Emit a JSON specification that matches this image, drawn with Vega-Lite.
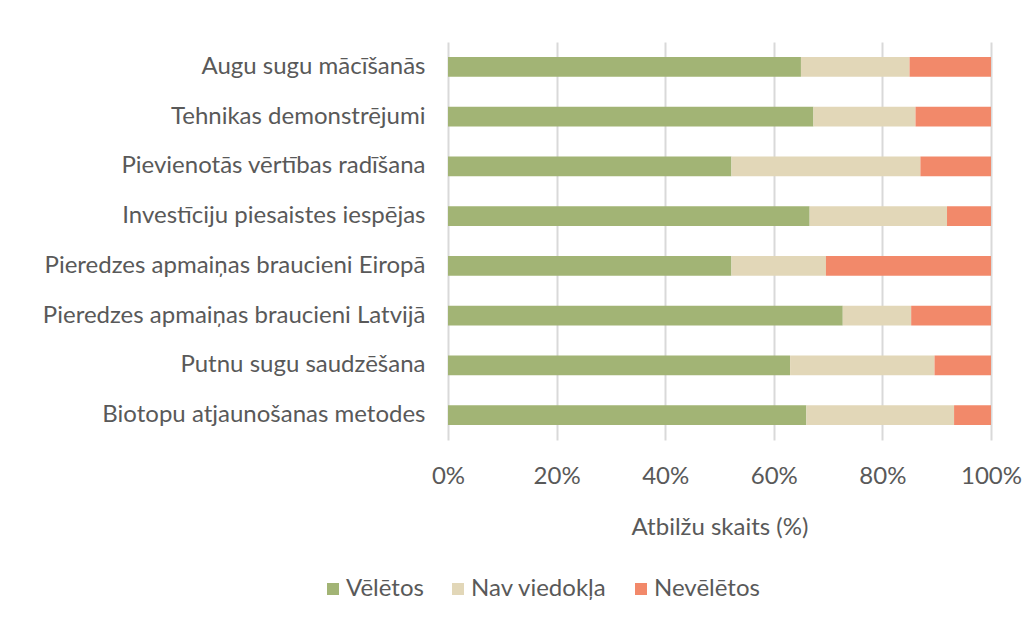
{
  "$schema": "https://vega.github.io/schema/vega-lite/v6.json",
  "width": 543,
  "height": 398,
  "autosize": {"type": "none"},
  "padding": {"left": 448, "top": 42, "right": 44, "bottom": 184},
  "background": "white",
  "data": {
    "values": [
      {"kategorija": "Augu sugu mācīšanās", "atbilde": "Vēlētos", "vertiba": 65.0},
      {"kategorija": "Augu sugu mācīšanās", "atbilde": "Nav viedokļa", "vertiba": 20.0},
      {"kategorija": "Augu sugu mācīšanās", "atbilde": "Nevēlētos", "vertiba": 15.0},
      {"kategorija": "Tehnikas demonstrējumi", "atbilde": "Vēlētos", "vertiba": 67.3},
      {"kategorija": "Tehnikas demonstrējumi", "atbilde": "Nav viedokļa", "vertiba": 18.8},
      {"kategorija": "Tehnikas demonstrējumi", "atbilde": "Nevēlētos", "vertiba": 13.9},
      {"kategorija": "Pievienotās vērtības radīšana", "atbilde": "Vēlētos", "vertiba": 52.2},
      {"kategorija": "Pievienotās vērtības radīšana", "atbilde": "Nav viedokļa", "vertiba": 34.8},
      {"kategorija": "Pievienotās vērtības radīšana", "atbilde": "Nevēlētos", "vertiba": 13.0},
      {"kategorija": "Investīciju piesaistes iespējas", "atbilde": "Vēlētos", "vertiba": 66.6},
      {"kategorija": "Investīciju piesaistes iespējas", "atbilde": "Nav viedokļa", "vertiba": 25.3},
      {"kategorija": "Investīciju piesaistes iespējas", "atbilde": "Nevēlētos", "vertiba": 8.1},
      {"kategorija": "Pieredzes apmaiņas braucieni Eiropā", "atbilde": "Vēlētos", "vertiba": 52.2},
      {"kategorija": "Pieredzes apmaiņas braucieni Eiropā", "atbilde": "Nav viedokļa", "vertiba": 17.4},
      {"kategorija": "Pieredzes apmaiņas braucieni Eiropā", "atbilde": "Nevēlētos", "vertiba": 30.4},
      {"kategorija": "Pieredzes apmaiņas braucieni Latvijā", "atbilde": "Vēlētos", "vertiba": 72.7},
      {"kategorija": "Pieredzes apmaiņas braucieni Latvijā", "atbilde": "Nav viedokļa", "vertiba": 12.6},
      {"kategorija": "Pieredzes apmaiņas braucieni Latvijā", "atbilde": "Nevēlētos", "vertiba": 14.7},
      {"kategorija": "Putnu sugu saudzēšana", "atbilde": "Vēlētos", "vertiba": 63.0},
      {"kategorija": "Putnu sugu saudzēšana", "atbilde": "Nav viedokļa", "vertiba": 26.6},
      {"kategorija": "Putnu sugu saudzēšana", "atbilde": "Nevēlētos", "vertiba": 10.4},
      {"kategorija": "Biotopu atjaunošanas metodes", "atbilde": "Vēlētos", "vertiba": 66.0},
      {"kategorija": "Biotopu atjaunošanas metodes", "atbilde": "Nav viedokļa", "vertiba": 27.2},
      {"kategorija": "Biotopu atjaunošanas metodes", "atbilde": "Nevēlētos", "vertiba": 6.8}
    ]
  },
  "transform": [
    {"calculate": "indexof(['Vēlētos', 'Nav viedokļa', 'Nevēlētos'], datum.atbilde)", "as": "seciba"}
  ],
  "mark": {"type": "bar"},
  "encoding": {
    "y": {
      "field": "kategorija",
      "type": "nominal",
      "sort": null,
      "scale": {"paddingInner": 0.6, "paddingOuter": 0.3},
      "axis": {
        "title": null,
        "domain": false,
        "ticks": false,
        "labelPadding": 23,
        "labelFont": "Lato",
        "labelFontSize": 24,
        "labelColor": "#595959",
        "labelLimit": 440
      }
    },
    "x": {
      "field": "vertiba",
      "type": "quantitative",
      "stack": "normalize",
      "scale": {"domain": [0, 1], "nice": false},
      "axis": {
        "values": [0, 0.2, 0.4, 0.6, 0.8, 1],
        "format": "~%",
        "labelFlush": false,
        "title": "Atbilžu skaits (%)",
        "titleFont": "Lato",
        "titleFontSize": 24,
        "titleFontWeight": "normal",
        "titleColor": "#595959",
        "titlePadding": 27,
        "domain": false,
        "ticks": false,
        "grid": true,
        "gridColor": "#d9d9d9",
        "gridWidth": 2,
        "labelPadding": 24,
        "labelFont": "Lato",
        "labelFontSize": 24,
        "labelColor": "#595959"
      }
    },
    "order": {"field": "seciba", "type": "quantitative", "sort": "ascending"},
    "color": {
      "field": "atbilde",
      "type": "nominal",
      "sort": ["Vēlētos", "Nav viedokļa", "Nevēlētos"],
      "scale": {
        "domain": ["Vēlētos", "Nav viedokļa", "Nevēlētos"],
        "range": ["#a2b475", "#e2d7b8", "#f2896a"]
      },
      "legend": {
        "title": null,
        "orient": "none",
        "direction": "horizontal",
        "legendX": -127,
        "legendY": 535,
        "symbolType": "square",
        "symbolSize": 144,
        "symbolStrokeWidth": 0,
        "symbolOpacity": 1,
        "labelFont": "Lato",
        "labelFontSize": 24,
        "labelColor": "#595959",
        "labelOffset": 1,
        "columnPadding": 22
      }
    }
  },
  "config": {
    "view": {"stroke": null},
    "axis": {"gridOpacity": 1}
  }
}
